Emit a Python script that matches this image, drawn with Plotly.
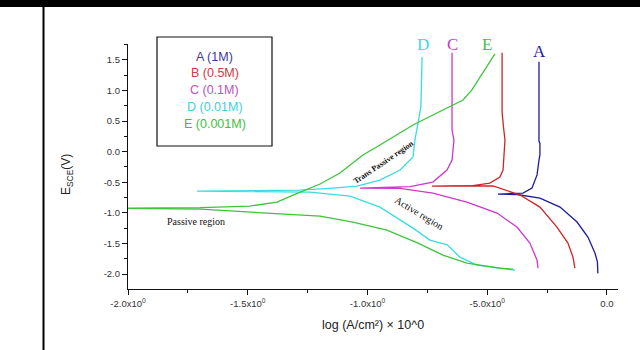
import plotly.graph_objects as go

# ---- data (log current density x, potential E vs SCE) ----
a_x = [-0.038, -0.040, -0.050, -0.079, -0.125, -0.196, -0.280, -0.376, -0.455, -0.376, -0.351, -0.313, -0.292, -0.284, -0.280, -0.280, -0.284, -0.284]
a_y = [-1.99, -1.80, -1.66, -1.40, -1.15, -0.906, -0.759, -0.700, -0.693, -0.688, -0.677, -0.595, -0.38, -0.137, -0.05, 0.14, 0.17, 1.47]

b_x = [-0.134, -0.142, -0.163, -0.209, -0.280, -0.363, -0.476, -0.600, -0.731, -0.600, -0.560, -0.489, -0.447, -0.434, -0.426, -0.432, -0.438, -0.438]
b_y = [-1.904, -1.724, -1.495, -1.233, -0.906, -0.709, -0.560, -0.565, -0.562, -0.560, -0.555, -0.513, -0.415, -0.30, 0.19, 0.40, 0.649, 1.615]

c_x = [-0.288, -0.292, -0.322, -0.376, -0.459, -0.585, -0.727, -0.864, -1.031, -0.823, -0.727, -0.668, -0.647, -0.639, -0.647, -0.647]
c_y = [-1.904, -1.773, -1.495, -1.233, -1.004, -0.824, -0.677, -0.600, -0.595, -0.570, -0.497, -0.30, -0.137, 0.19, 0.354, 1.615]

d_x = [-0.384, -0.543, -0.614, -0.668, -0.690, -0.739, -0.810, -0.864, -0.948, -1.073, -1.240, -1.712, -1.282, -1.144, -1.044, -0.948, -0.864, -0.810, -0.802, -0.789, -0.777, -0.772]
d_y = [-1.937, -1.855, -1.724, -1.52, -1.50, -1.446, -1.250, -1.119, -0.906, -0.726, -0.660, -0.644, -0.630, -0.595, -0.562, -0.464, -0.30, -0.088, 0.19, 0.469, 0.731, 1.549]

e_x = [-0.392, -0.447, -0.585, -0.685, -0.789, -0.919, -1.061, -1.198, -1.420, -1.699, -2.02, -1.699, -1.491, -1.378, -1.311, -1.261, -1.198, -1.115, -1.019, -0.948, -0.864, -0.810, -0.727, -0.643, -0.601, -0.564, -0.518, -0.468]
e_y = [-1.921, -1.904, -1.822, -1.691, -1.495, -1.282, -1.151, -1.053, -1.004, -0.939, -0.925, -0.915, -0.890, -0.824, -0.710, -0.628, -0.529, -0.349, -0.055, 0.109, 0.305, 0.436, 0.600, 0.763, 0.845, 1.009, 1.287, 1.598]

series_names = ["A (1M)", "B (0.5M)", "C (0.1M)", "D (0.01M)", "E (0.001M)"]
series_short = ["A", "B", "C", "D", "E"]
line_colors = ["#1c1c9c", "#cc2424", "#cc38cc", "#38dce0", "#3cc43c"]
legend_colors = ["#3a3a9a", "#cc3a3a", "#c050c0", "#40d0e0", "#40c040"]

x_tickvals = [-2.0, -1.5, -1.0, -0.5, 0.0]
x_ticktext = ["-2.0x10<sup>0</sup>", "-1.5x10<sup>0</sup>", "-1.0x10<sup>0</sup>", "-5.0x10<sup>0</sup>", "0.0"]
y_tickvals = [1.5, 1.0, 0.5, 0.0, -0.5, -1.0, -1.5, -2.0]

curves = [(a_x, a_y), (b_x, b_y), (c_x, c_y), (d_x, d_y), (e_x, e_y)]

# label positions over curve tops (data coords)
label_x = [-0.280, -0.426, -0.643, -0.768, -0.501]
label_y = [1.631, 1.762, 1.745, 1.745, 1.745]

fig = go.Figure()
for (xs, ys), name, col in zip(curves, series_names, line_colors):
    fig.add_trace(go.Scatter(x=xs, y=ys, mode="lines", name=name,
                             line=dict(color=col, width=1.3), showlegend=False))

W, H = 640, 350
L, R, T, B = 128, 22, 44, 61
pw = W - L - R
ph = H - T - B

def px2x(px):
    return (px - L) / pw

def py2y(py):
    return (H - B - py) / ph

annotations = []
# curve letters
for s, lx, ly, col in zip(series_short, label_x, label_y, line_colors):
    annotations.append(dict(x=lx, y=ly, xref="x", yref="y", text=s, showarrow=False,
                            xanchor="center", yanchor="middle",
                            font=dict(family="Liberation Serif", size=17, color=col)))
# legend box text
leg_y = [57, 73, 90, 107, 124]
for name, col, py in zip(series_names, legend_colors, leg_y):
    annotations.append(dict(x=px2x(214.5), y=py2y(py), xref="paper", yref="paper", text=name,
                            xanchor="center", yanchor="middle",
                            showarrow=False, font=dict(family="Liberation Sans", size=12.5, color=col)))
# region texts
annotations.append(dict(x=-1.716, y=-1.135, xref="x", yref="y", text="Passive region", showarrow=False,
                        xanchor="center", yanchor="middle",
                        font=dict(family="Liberation Serif", size=10, color="#111")))
annotations.append(dict(x=-0.781, y=-1.004, xref="x", yref="y", text="Active region", showarrow=False,
                        xanchor="center", yanchor="middle",
                        textangle=31, font=dict(family="Liberation Serif", size=10, color="#111")))
annotations.append(dict(x=-0.935, y=-0.169, xref="x", yref="y", text="<b>Trans Passive region</b>", showarrow=False,
                        xanchor="center", yanchor="middle",
                        textangle=-34, font=dict(family="Liberation Serif", size=8, color="#111")))
# axis titles
annotations.append(dict(x=px2x(67), y=py2y(175), xref="paper", yref="paper", text="E<sub>SCE</sub>(V)",
                        xanchor="center", yanchor="middle",
                        showarrow=False, textangle=-90, font=dict(family="Liberation Sans", size=12, color="#222")))
annotations.append(dict(x=0.5, y=py2y(325), xref="paper", yref="paper", text="log (A/cm²) × 10^0",
                        xanchor="center", yanchor="middle",
                        showarrow=False, font=dict(family="Liberation Sans", size=12.5, color="#222")))

shapes = [
    dict(type="rect", xref="paper", yref="paper", x0=px2x(157), x1=px2x(272), y0=py2y(146), y1=py2y(37),
         line=dict(color="#111", width=1.2), fillcolor="rgba(0,0,0,0)"),
    dict(type="rect", xref="paper", yref="paper", x0=px2x(0), x1=px2x(640), y0=py2y(7), y1=py2y(0),
         line=dict(width=0), fillcolor="#000"),
    dict(type="rect", xref="paper", yref="paper", x0=px2x(42.5), x1=px2x(44.5), y0=py2y(350), y1=py2y(0),
         line=dict(width=0), fillcolor="#000"),
]

fig.update_layout(
    width=W, height=H,
    margin=dict(l=L, r=R, t=T, b=B),
    paper_bgcolor="white", plot_bgcolor="white",
    annotations=annotations, shapes=shapes,
    xaxis=dict(range=[-2.0, 0.046], showgrid=False, zeroline=False, showline=True, linecolor="#111",
               linewidth=1.2, ticks="outside", ticklen=5, tickcolor="#111",
               tickmode="array", tickvals=x_tickvals, ticktext=x_ticktext,
               tickfont=dict(family="Liberation Sans", size=9.5, color="#333"),
               minor=dict(tickmode="array", tickvals=[-1.75, -1.25, -0.75, -0.25], ticks="outside",
                          ticklen=3, tickcolor="#111")),
    yaxis=dict(range=[-2.245, 1.76], showgrid=False, zeroline=False, showline=True, linecolor="#111",
               linewidth=1.2, ticks="outside", ticklen=5, tickcolor="#111",
               tickmode="array", tickvals=y_tickvals, ticktext=[f"{v:.1f}" for v in y_tickvals],
               tickfont=dict(family="Liberation Sans", size=9.5, color="#333"),
               minor=dict(tickmode="array", tickvals=[1.75, 1.25, 0.75, 0.25, -0.25, -0.75, -1.25, -1.75, -2.25],
                          ticks="outside", ticklen=3, tickcolor="#111")),
)

fig.write_html("out.html", config={"displayModeBar": False},
               post_script="document.body.style.margin='0';document.body.style.overflow='hidden';")
